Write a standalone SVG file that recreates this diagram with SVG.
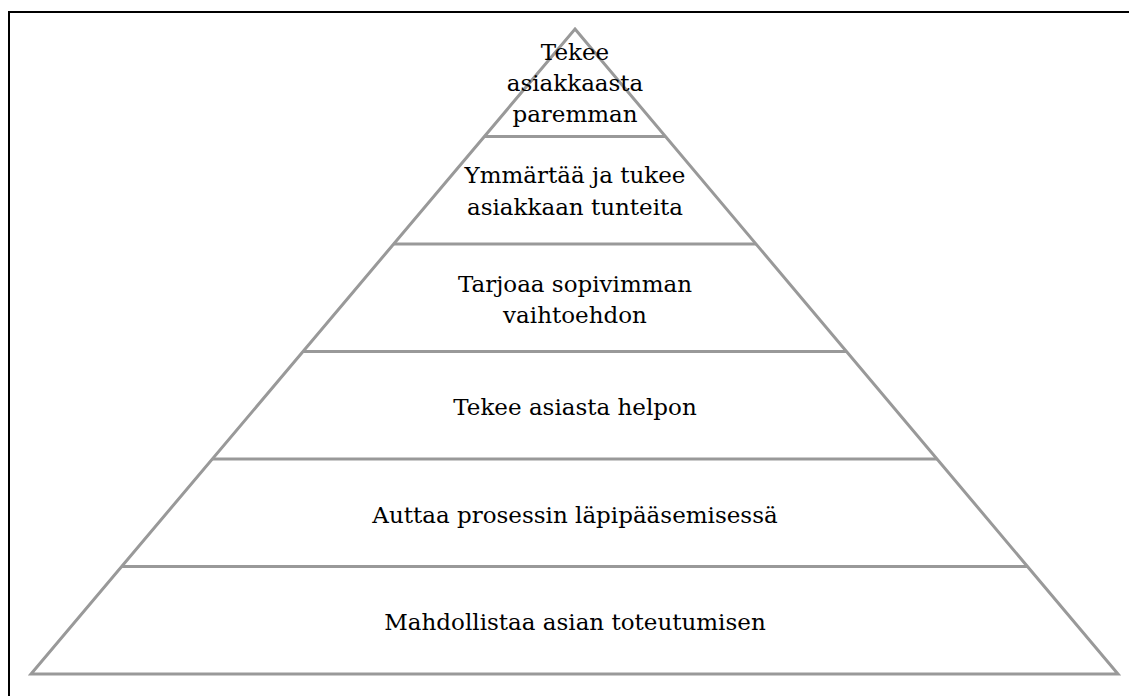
<svg xmlns="http://www.w3.org/2000/svg" width="1129" height="696" viewBox="0 0 1129 696">
<style>
.frame{fill:none;stroke:#000;stroke-width:2}
.pyr{fill:#fff;stroke:#999;stroke-width:3;stroke-linejoin:miter}
.div{stroke:#999;stroke-width:3}
.t{font-family:"DejaVu Serif","Liberation Serif",serif;font-size:23px;fill:#000;text-anchor:middle}
</style>
<rect width="1129" height="696" fill="#fff"/>
<path class="frame" d="M9 696 V12 H1129"/>
<g id="pyramid">
<polygon class="pyr" points="575,29 1118,674 31,674"/>
</g>
<g id="connectors">
<line class="div" x1="484" y1="136.5" x2="665" y2="136.5"/>
<line class="div" x1="393" y1="244" x2="756" y2="244"/>
<line class="div" x1="303" y1="351.5" x2="847" y2="351.5"/>
<line class="div" x1="212" y1="459" x2="937" y2="459"/>
<line class="div" x1="121" y1="566.5" x2="1028" y2="566.5"/>
</g>
<g id="level6"><text class="t" x="575" y="60">Tekee</text><text class="t" x="575" y="91">asiakkaasta</text><text class="t" x="575" y="122">paremman</text></g>
<g id="level5"><text class="t" x="575" y="183">Ymmärtää ja tukee</text><text class="t" x="575" y="215">asiakkaan tunteita</text></g>
<g id="level4"><text class="t" x="575" y="292">Tarjoaa sopivimman</text><text class="t" x="575" y="323">vaihtoehdon</text></g>
<g id="level3"><text class="t" x="575" y="415">Tekee asiasta helpon</text></g>
<g id="level2"><text class="t" x="575" y="523">Auttaa prosessin läpipääsemisessä</text></g>
<g id="level1"><text class="t" x="575" y="630">Mahdollistaa asian toteutumisen</text></g>
</svg>
